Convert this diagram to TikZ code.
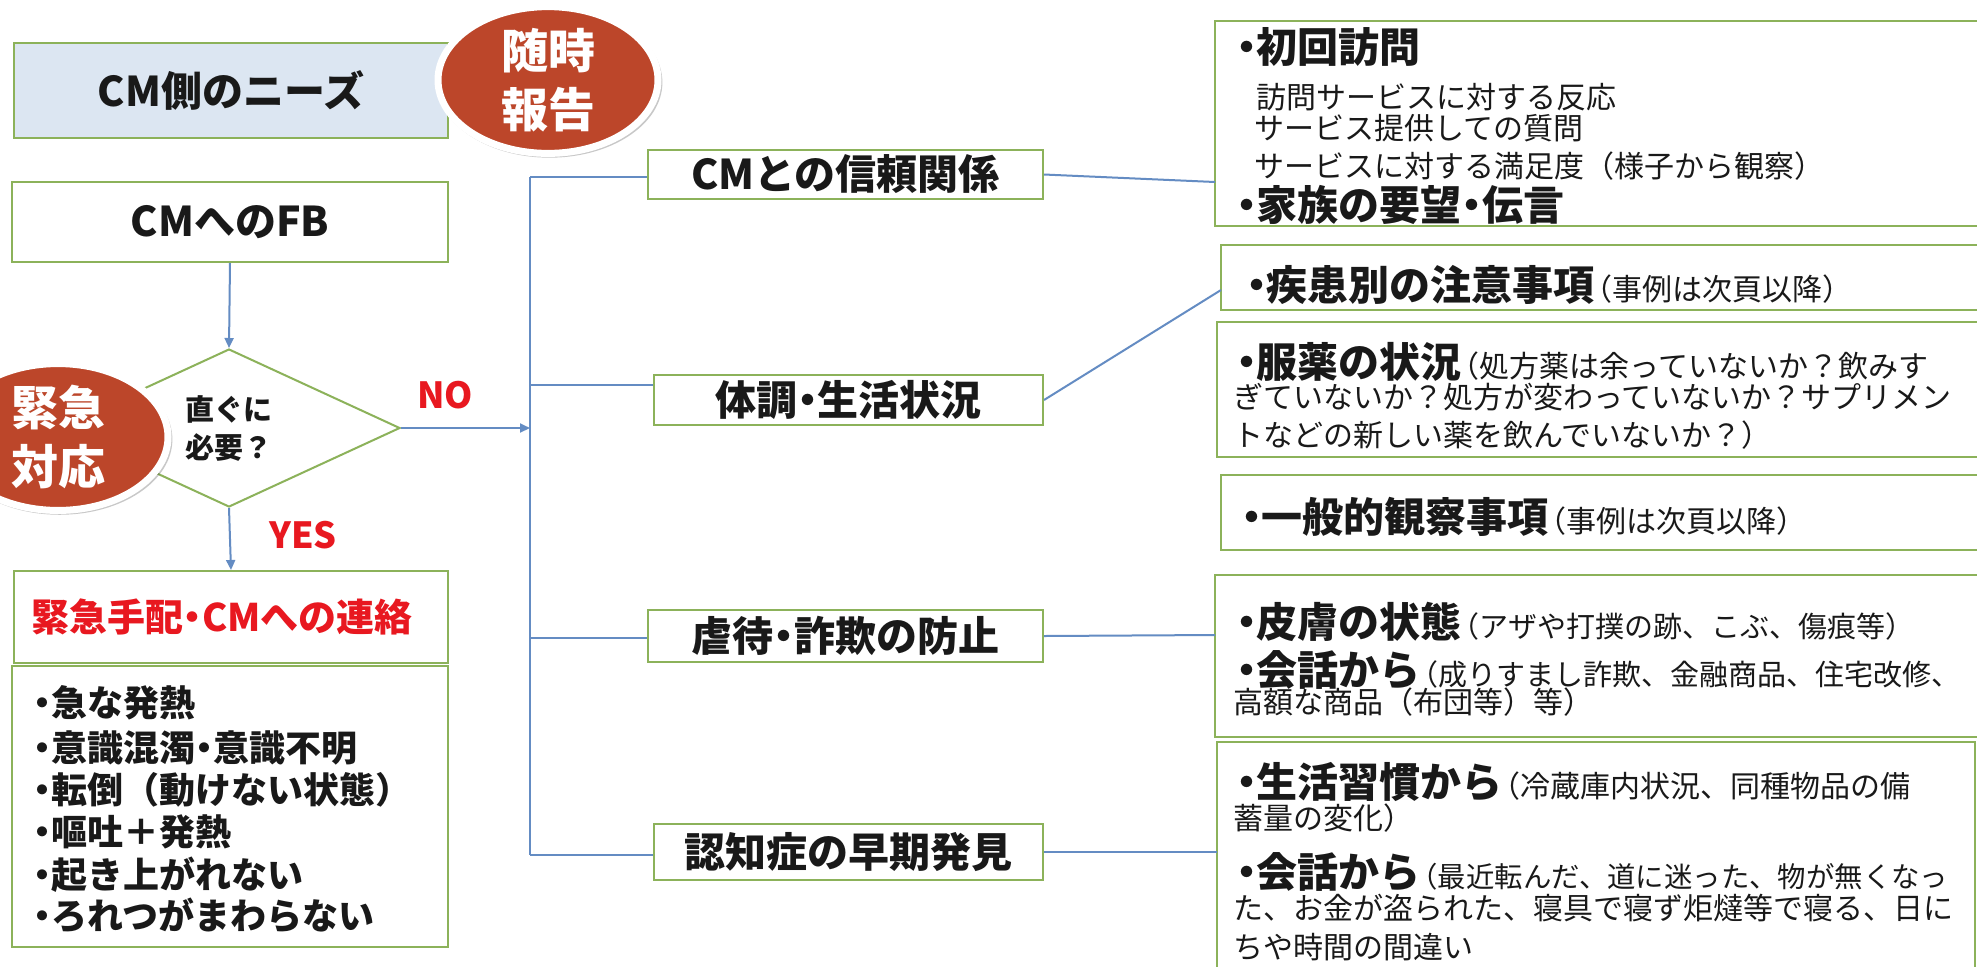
\documentclass[tikz,border=0pt]{standalone}
\usepackage{fontspec}
\setmainfont{Noto Sans CJK JP}
\usetikzlibrary{shapes.geometric,arrows.meta,shadows}
\definecolor{boxgreen}{RGB}{140,178,90}
\definecolor{lineblue}{RGB}{100,140,195}
\definecolor{paleblue}{RGB}{220,230,242}
\definecolor{ovalred}{RGB}{188,70,42}
\definecolor{alertred}{RGB}{232,24,32}
\definecolor{ink}{RGB}{25,25,25}
\newcommand\jdot{\makebox[0.5em]{・}}
\newcommand\jpbig{\fontsize{20.5pt}{24pt}\selectfont\bfseries}
\newcommand\jpsmall{\fontsize{15pt}{18pt}\selectfont\mdseries}
\newcommand\jpitem{\fontsize{18pt}{20pt}\selectfont\bfseries}
\newcommand\lpar{\kern-0.4em（}
\begin{document}
\begin{tikzpicture}[x=0.5pt,y=-0.5pt,
  box/.style={draw=boxgreen, line width=1pt, rectangle, inner sep=0pt},
  conn/.style={draw=lineblue, line width=1pt},
  arr/.style={conn, -{Triangle[length=5pt,width=4.5pt]}},
  hdr/.style={font=\jpbig, text=ink},
  txt/.style={anchor=west, inner sep=0pt, text=ink},
  oval/.style={ellipse, fill=ovalred, draw=white, line width=3.5pt,
    minimum width=110pt, minimum height=68pt, inner sep=0pt, text=white,
    align=center, font=\fontsize{23.5pt}{29.5pt}\selectfont\bfseries,
    drop shadow={shadow xshift=0.8pt, shadow yshift=-1.2pt, shadow scale=1.025, opacity=0.3, fill=black!70}},
  lab/.style={font=\fontsize{18pt}{20pt}\selectfont\bfseries, text=alertred, inner sep=0pt}]
\useasboundingbox (0,0) rectangle (1977,966);
\clip (0,0) rectangle (1977,966);
\fill[white] (0,0) rectangle (1977,966);

% ---- left column ----
\node[box, fill=paleblue, minimum width=217pt, minimum height=47.5pt, hdr] (needs) at (231,90.5) {CM側のニーズ};
\node[box, minimum width=218pt, minimum height=40pt, hdr] (fb) at (230,222) {CMへのFB};
\node[diamond, draw=boxgreen, line width=1pt, minimum width=171pt, minimum height=79pt,
  inner sep=0pt, align=left, font=\fontsize{14.5pt}{19pt}\selectfont\bfseries, text=ink] (dia) at (229,428) {直ぐに\\必要？};
\node[box, minimum width=217pt, minimum height=46pt] (alert) at (231,617) {};
\node[inner sep=0pt, font=\fontsize{19pt}{21pt}\selectfont\bfseries, text=alertred] (alerttxt) at (222,617) {緊急手配\jdot CMへの連絡};
\node[box, minimum width=218pt, minimum height=140.5pt] (items) at (230,806.5) {};
\node[txt, font=\jpitem] (i1) at (33,703) {\jdot 急な発熱};
\node[txt, font=\jpitem] (i2) at (33,748) {\jdot 意識混濁\jdot 意識不明};
\node[txt, font=\jpitem] (i3) at (33,790) {\jdot 転倒（動けない状態）};
\node[txt, font=\jpitem] (i4) at (33,832) {\jdot 嘔吐＋発熱};
\node[txt, font=\jpitem] (i5) at (33,875) {\jdot 起き上がれない};
\node[txt, font=\jpitem] (i6) at (33,915) {\jdot ろれつがまわらない};

\node[lab] (yes) at (303,535) {YES};
\node[lab] (no) at (445,395) {NO};

% ---- middle column ----
\node[box, hdr, minimum width=197.5pt, minimum height=24.5pt] (shinrai) at (845.5,174.5) {CMとの信頼関係};
\node[box, hdr, minimum width=194.5pt, minimum height=25pt] (taichou) at (848.5,400) {体調\jdot 生活状況};
\node[box, hdr, minimum width=197.5pt, minimum height=26pt] (gyaku) at (845.5,636) {虐待\jdot 詐欺の防止};
\node[box, hdr, minimum width=194.5pt, minimum height=28pt] (ninchi) at (848.5,852) {認知症の早期発見};

% ---- right column boxes ----
\node[box, minimum width=385pt, minimum height=102.5pt] (bA) at (1600,123.5) {};
\node[box, minimum width=382pt, minimum height=32.5pt] (bB) at (1603,277.5) {};
\node[box, minimum width=384pt, minimum height=67.5pt] (bC) at (1601,389.5) {};
\node[box, minimum width=382pt, minimum height=37.5pt] (bD) at (1603,512.5) {};
\node[box, minimum width=385pt, minimum height=81pt] (bE) at (1600,656) {};
\node[box, minimum width=379pt, minimum height=129pt] (bF) at (1596,871) {};

\node[txt] (a1) at (1236,47) {\jpbig\jdot 初回訪問};
\node[txt] (a2) at (1256,97) {\jpsmall 訪問サービスに対する反応};
\node[txt] (a3) at (1254,128) {\jpsmall サービス提供しての質問};
\node[txt] (a4) at (1254,166) {\jpsmall サービスに対する満足度（様子から観察）};
\node[txt] (a5) at (1236,205) {\jpbig\jdot 家族の要望\jdot 伝言};

\node[txt] (b1) at (1246,285) {{\jpbig\jdot 疾患別の注意事項}{\jpsmall\lpar 事例は次頁以降）}};

\node[txt] (c1) at (1236,362) {{\jpbig\jdot 服薬の状況}{\jpsmall\lpar 処方薬は余っていないか？飲みす}};
\node[txt] (c2) at (1233,397) {\jpsmall ぎていないか？処方が変わっていないか？サプリメン};
\node[txt] (c3) at (1233,435) {\jpsmall トなどの新しい薬を飲んでいないか？）};

\node[txt] (d1) at (1241,517) {{\jpbig\jdot 一般的観察事項}{\jpsmall\lpar 事例は次頁以降）}};

\node[txt] (e1) at (1236,622) {{\jpbig\jdot 皮膚の状態}{\fontsize{14.5pt}{18pt}\selectfont\mdseries\lpar アザや打撲の跡、こぶ、傷痕等）}};
\node[txt] (e2) at (1236,670) {{\jpbig\jdot 会話から}{\fontsize{14.5pt}{18pt}\selectfont\mdseries\lpar 成りすまし詐欺、金融商品、住宅改修、}};
\node[txt] (e3) at (1233,702) {\jpsmall 高額な商品（布団等）等）};

\node[txt] (f1) at (1236,782) {{\jpbig\jdot 生活習慣から}{\jpsmall\lpar 冷蔵庫内状況、同種物品の備}};
\node[txt] (f2) at (1233,818) {\jpsmall 蓄量の変化）};
\node[txt] (f3) at (1236,872) {{\jpbig\jdot 会話から}{\fontsize{14.2pt}{18pt}\selectfont\mdseries\lpar 最近転んだ、道に迷った、物が無くなっ}};
\node[txt] (f4) at (1233,908) {\jpsmall た、お金が盗られた、寝具で寝ず炬燵等で寝る、日に};
\node[txt] (f5) at (1233,947) {\jpsmall ちや時間の間違い};

% ---- connectors ----
\draw[arr] (fb.south) -- (dia.north);
\draw[arr] (dia.south) -- (alert.north);
\coordinate (vtop) at (530,177);
\coordinate (v2) at (530,385);
\coordinate (vno) at (530,428);
\coordinate (v3) at (530,638);
\coordinate (vbot) at (530,855);
\draw[arr] (dia.east) -- (vno);
\draw[conn] (vtop) -- (vbot);
\draw[conn] (vtop) -- (vtop -| shinrai.west);
\draw[conn] (v2) -- (v2 -| taichou.west);
\draw[conn] (v3) -- (v3 -| gyaku.west);
\draw[conn] (vbot) -- (vbot -| ninchi.west);
\coordinate (ainp) at (1215,182);
\coordinate (binp) at (1221,290);
\coordinate (einp) at (1215,635);
\coordinate (finp) at (1217,852);
\draw[conn] (shinrai.east) -- (ainp);
\draw[conn] (taichou.east) -- (binp);
\draw[conn] (gyaku.east) -- (einp);
\draw[conn] (ninchi.east) -- (finp);

% ---- ovals ----
\node[oval] (zuiji) at (548,80) {随時\\報告};
\node[oval] (kinkyu) at (58,437) {緊急\\対応};
\end{tikzpicture}
\end{document}
